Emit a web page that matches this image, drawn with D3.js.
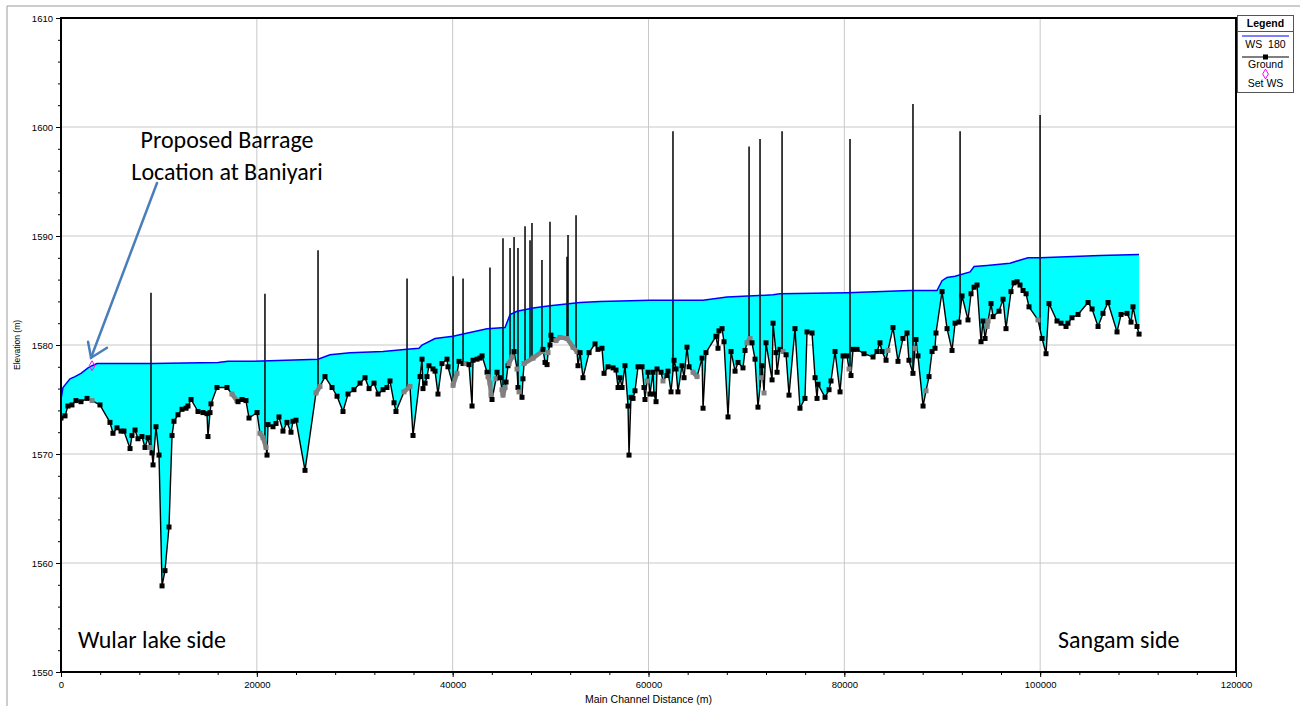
<!DOCTYPE html>
<html>
<head>
<meta charset="utf-8">
<script src="https://cdn.jsdelivr.net/npm/d3@7"></script>
<style>
  body { margin: 0; background: #fff; }
  svg { display: block; }
  .tick text { font-family: "Liberation Sans", Arial, sans-serif; font-size: 9.5px; fill: #000; }
</style>
</head>
<body>
<svg id="chart" width="1300" height="706"></svg>
<script>
// Longitudinal profile, Jhelum main channel (distance in m, elevation in m)
const groundDist = [0,410,710,1120,1530,2040,2660,3170,3980,5000,5310,5720,6130,6430,7050,7250,7560,7860,8270,8580,8890,9090,9290,9400,9700,10010,10320,10620,11030,11340,11540,11950,12360,12770,12970,13280,13990,14500,14910,15010,15220,15320,15930,16950,17460,17970,18080,18490,18890,19200,20020,20320,20630,20940,21040,21140,21650,21960,22260,22670,23080,23490,23690,24000,24920,26040,26450,26960,27680,28190,28800,29310,29920,30540,31050,31460,31970,32380,32890,33290,33600,34010,34210,35030,35640,35950,36670,36870,36970,37180,37380,37580,37990,38200,38500,38910,39420,39520,40040,40440,40650,41060,41360,41670,41980,42080,42490,42790,43000,43510,43610,43810,43920,44020,44430,44530,44840,45040,45140,45350,45450,45650,45750,46060,46270,46570,46670,46780,47080,47180,47290,48210,49120,49230,49430,49640,49740,49940,50040,50250,50550,50960,51680,52290,52700,52800,53010,53310,53930,54540,54840,55250,55460,55870,56380,56680,56890,57090,57300,57600,57910,58010,58210,58420,58620,58930,59340,59540,59640,59850,59950,60150,60460,60560,60770,60870,61280,61480,61890,61990,62300,62610,62810,63010,63420,63630,63930,64140,64550,64960,65470,65570,65870,66890,67100,67200,67510,67710,68120,68430,68840,69140,69650,69860,70060,70370,70570,70880,71180,71490,71590,71800,72000,72620,72720,73020,73130,73430,73740,74050,74350,74960,75470,75980,76190,76700,77010,77210,77310,78030,78440,78640,79050,79560,79870,80270,80480,80680,80890,81300,82010,82930,83340,83640,83850,84260,84460,84970,85480,85990,86400,86600,87010,87220,87320,87520,88040,88340,88650,88960,89260,89360,89980,90490,91000,91310,91710,92020,92630,92940,93250,93550,93960,94170,94370,94580,94680,94980,95190,95800,96210,96510,97020,97330,97640,97940,98250,98560,98860,99780,100190,100600,100900,101720,102130,102640,102840,103250,103870,104890,105300,105910,106420,106930,107850,108260,108870,109280,109480,109890,110100];

const groundElev = [1573.3,1573.5,1574.4,1574.5,1574.9,1574.8,1575.1,1574.9,1574.5,1572.9,1571.9,1572.4,1572.1,1572.1,1570.5,1571.7,1572.2,1571.4,1571.6,1570.6,1571.5,1570.6,1570.1,1569.0,1572.5,1569.9,1557.9,1559.3,1563.3,1571.7,1573.0,1573.6,1574.1,1574.2,1574.4,1575.0,1573.9,1573.8,1573.7,1571.6,1573.8,1574.6,1576.1,1576.1,1575.5,1574.9,1574.8,1575.0,1574.9,1573.3,1573.8,1571.9,1571.5,1570.6,1569.9,1572.7,1572.5,1572.8,1573.4,1572.1,1572.9,1572.0,1573.0,1573.1,1568.5,1575.6,1576.2,1577.1,1576.1,1575.3,1573.9,1575.5,1575.9,1576.5,1577.0,1576.0,1576.5,1575.5,1575.9,1576.1,1576.7,1574.7,1573.9,1575.7,1576.2,1571.7,1577.1,1578.7,1576.0,1576.5,1577.1,1578.1,1577.8,1577.6,1575.5,1578.3,1578.7,1578.0,1576.3,1577.4,1578.5,1578.3,1578.3,1578.2,1574.4,1578.6,1578.7,1578.8,1579.0,1577.5,1577.1,1576.5,1575.4,1575.0,1576.9,1577.5,1577.0,1575.9,1575.4,1576.1,1576.6,1578.1,1578.3,1578.9,1579.4,1577.8,1576.1,1575.7,1575.2,1576.9,1578.3,1578.8,1579.4,1579.6,1578.4,1578.2,1579.3,1580.0,1580.9,1580.5,1580.4,1580.7,1580.6,1579.8,1579.4,1578.1,1579.3,1577.0,1579.3,1580.1,1579.6,1579.7,1577.4,1578.0,1577.9,1577.7,1576.1,1577.0,1576.1,1578.1,1574.4,1569.9,1575.2,1575.1,1575.8,1578.0,1578.0,1576.1,1575.0,1576.7,1577.5,1575.5,1577.5,1575.5,1574.8,1577.8,1577.5,1576.7,1577.2,1577.6,1575.7,1578.6,1577.8,1575.7,1578.1,1577.0,1579.8,1578.0,1577.5,1577.1,1578.8,1574.2,1579.3,1580.8,1579.7,1581.3,1581.5,1580.3,1573.4,1579.4,1577.6,1578.4,1577.9,1579.5,1580.2,1580.6,1580.2,1578.7,1574.3,1577.0,1578.1,1575.6,1580.2,1576.8,1582.0,1579.3,1577.5,1579.6,1579.4,1579.1,1575.4,1581.5,1574.2,1575.1,1581.2,1581.1,1577.0,1575.1,1576.4,1575.2,1575.9,1576.7,1579.4,1575.7,1579.0,1579.0,1577.8,1577.2,1579.6,1579.6,1579.2,1578.9,1579.4,1580.2,1579.4,1578.6,1579.5,1581.6,1578.5,1580.6,1581.1,1578.6,1577.4,1579.7,1580.5,1579.0,1574.4,1575.8,1577.1,1579.4,1579.7,1581.1,1584.9,1581.5,1579.5,1582.0,1582.1,1584.5,1582.3,1584.7,1585.3,1585.5,1580.3,1582.2,1580.6,1581.7,1582.2,1583.8,1582.6,1583.1,1584.2,1581.5,1584.9,1585.7,1585.8,1585.5,1585.0,1584.7,1583.5,1582.3,1580.6,1579.2,1583.8,1582.2,1582.0,1581.7,1582.0,1582.5,1582.8,1583.9,1583.3,1581.7,1582.9,1583.9,1581.2,1582.8,1582.9,1582.1,1583.5,1581.7,1581.0];

// Stations of interpolated cross sections (drawn grey)
const interpolatedStations = [3170,9090,17460,17970,20320,20630,20940,26040,26450,35030,35640,40040,40440,41360,43610,43810,43920,44430,45040,45140,45350,45750,46060,46570,46780,47290,48210,49120,49740,50550,50960,51680,52290,52700,59850,61480,64550,64960,70060,70370,71490,71800,73740,80480,84460,87220,88340,94580,94680,99780];

// Water surface, profile "180"
const wsDist = [0,200,920,1430,2040,2760,3170,3680,9290,16030,17060,19300,26250,27470,29520,32890,35340,36560,36870,38200,40040,41060,43510,45350,45860,46570,48210,49940,53010,55050,60150,65570,68020,72720,73430,80270,86710,89460,89980,90490,91310,92840,93250,94580,96920,97640,98760,99990,106110,110100];
const wsElev = [1575.0,1576.1,1576.9,1577.1,1577.4,1577.9,1578.1,1578.3,1578.3,1578.4,1578.5,1578.5,1578.7,1579.1,1579.3,1579.4,1579.6,1579.7,1580.0,1580.6,1580.8,1581.0,1581.5,1581.6,1582.8,1583.1,1583.4,1583.6,1583.9,1584.0,1584.1,1584.1,1584.4,1584.6,1584.7,1584.8,1585.0,1585.0,1585.9,1586.2,1586.3,1586.7,1587.2,1587.3,1587.5,1587.7,1588.0,1588.0,1588.2,1588.3];

// Structures crossing the channel: station and top elevation
const structDist = [9190,20830,26250,35340,40040,41060,43810,45140,45860,46270,46670,47390,47900,48100,49120,49940,51680,51780,52600,62500,70270,71390,73640,80580,87010,91820,99990];
const structTop = [1584.8,1584.7,1588.7,1586.1,1586.3,1586.1,1587.1,1589.8,1588.9,1589.9,1588.9,1590.9,1589.6,1591.2,1587.8,1591.3,1588.1,1590.1,1591.9,1599.6,1598.2,1598.9,1599.6,1598.9,1602.1,1599.6,1601.1];

// Known water surface at the barrage site
const setWsDist = [3170];
const setWsElev = [1578.1];

const xTicks = [0,20000,40000,60000,80000,100000,120000];
const yTicks = [1550,1560,1570,1580,1590,1600,1610];

const svg = d3.select("#chart");
const x = d3.scaleLinear().domain([0, 120000]).range([61, 1236]);
const y = d3.scaleLinear().domain([1550, 1610]).range([672, 18]);

// outer page border
svg.append("path").attr("d", "M7,706 V6 H1300").attr("fill", "none").attr("stroke", "#9a9a9a").attr("stroke-width", 1);

svg.append("defs").append("clipPath").attr("id", "plotclip")
  .append("rect").attr("x", x(0)).attr("y", y(1610)).attr("width", x(120000) - x(0)).attr("height", y(1550) - y(1610));

// grid lines
const grid = svg.append("g").attr("stroke", "#c8c8c8").attr("stroke-width", 1);
grid.selectAll(".gx").data(xTicks.slice(1, -1)).join("line")
  .attr("x1", d => x(d)).attr("x2", d => x(d)).attr("y1", y(1550)).attr("y2", y(1610));
grid.selectAll(".gy").data(yTicks.slice(1, -1)).join("line")
  .attr("y1", d => y(d)).attr("y2", d => y(d)).attr("x1", x(0)).attr("x2", x(120000));

const ground = groundDist.map((d, i) => ({ d, e: groundElev[i], interp: interpolatedStations.includes(d) }));
const ws = wsDist.map((d, i) => ({ d, e: wsElev[i] }));

const plot = svg.append("g").attr("clip-path", "url(#plotclip)");
const line = d3.line().x(p => x(p.d)).y(p => y(p.e));

// water between ground and water surface
plot.append("path")
  .attr("d", line(ws.concat(ground.slice().reverse())) + "Z")
  .attr("fill", "#00ffff").attr("stroke", "none");

// ground elevation below a station
const bis = d3.bisector(p => p.d).left;
function groundAt(dd) {
  const i = Math.max(1, Math.min(ground.length - 1, bis(ground, dd)));
  const a = ground[i - 1], b = ground[i];
  const t = (dd - a.d) / (b.d - a.d);
  return a.e + t * (b.e - a.e);
}

// structure lines
plot.append("g").selectAll("line").data(structDist).join("line")
  .attr("x1", d => x(d)).attr("x2", d => x(d))
  .attr("y1", (d, i) => y(structTop[i])).attr("y2", d => y(groundAt(d)))
  .attr("stroke", "#000").attr("stroke-width", 1.5);

// water surface line
plot.append("path").attr("d", line(ws)).attr("fill", "none").attr("stroke", "#0000ff").attr("stroke-width", 1.5);

// ground line
plot.append("path").attr("d", line(ground)).attr("fill", "none").attr("stroke", "#000").attr("stroke-width", 1.4);

// runs of interpolated sections
const greySegs = [];
for (let i = 1; i < ground.length; i++) {
  if (ground[i].interp && ground[i - 1].interp) greySegs.push([ground[i - 1], ground[i]]);
}
plot.append("g").selectAll("line").data(greySegs).join("line")
  .attr("x1", s => x(s[0].d)).attr("y1", s => y(s[0].e))
  .attr("x2", s => x(s[1].d)).attr("y2", s => y(s[1].e))
  .attr("stroke", "#808080").attr("stroke-width", 4.5).attr("stroke-linecap", "round");

// section markers
plot.append("g").selectAll("rect").data(ground).join("rect")
  .attr("x", p => x(p.d) - 2.5).attr("y", p => y(p.e) - 2.5)
  .attr("width", 5).attr("height", 5)
  .attr("fill", p => p.interp ? "#808080" : "#000");

// set water surface marker
const diamond = d3.symbol().type(d3.symbolDiamond).size(28);
plot.append("g").selectAll("path").data(setWsDist).join("path")
  .attr("transform", (d, i) => `translate(${x(d)},${y(setWsElev[i])})`)
  .attr("d", diamond).attr("fill", "none").attr("stroke", "#ff00ff").attr("stroke-width", 1);

// frame
svg.append("rect").attr("x", x(0)).attr("y", y(1610))
  .attr("width", x(120000) - x(0)).attr("height", y(1550) - y(1610))
  .attr("fill", "none").attr("stroke", "#000").attr("stroke-width", 2);

// axes
const yAxis = svg.append("g").attr("transform", `translate(${x(0)},0)`)
  .call(d3.axisLeft(y).tickValues(yTicks).tickSize(5).tickPadding(3).tickFormat(d3.format("d")));
const yMinor = svg.append("g").attr("transform", `translate(${x(0)},0)`)
  .call(d3.axisLeft(y).tickValues(d3.range(1550, 1611, 2)).tickSize(3).tickFormat(""));
const xAxis = svg.append("g").attr("transform", `translate(0,${y(1550)})`)
  .call(d3.axisBottom(x).tickValues(xTicks).tickSize(5).tickPadding(4).tickFormat(d3.format("d")));
const xMinor = svg.append("g").attr("transform", `translate(0,${y(1550)})`)
  .call(d3.axisBottom(x).tickValues(d3.range(0, 120001, 4000)).tickSize(3).tickFormat(""));
[yAxis, yMinor, xAxis, xMinor].forEach(g => { g.select(".domain").remove(); g.selectAll("line").attr("stroke", "#000"); });

svg.append("text").attr("transform", `translate(20,${(y(1550) + y(1610)) / 2}) rotate(-90)`)
  .attr("text-anchor", "middle").attr("font-family", "Liberation Sans, Arial, sans-serif").attr("font-size", 8.5)
  .text("Elevation (m)");
svg.append("text").attr("x", (x(0) + x(120000)) / 2).attr("y", 703)
  .attr("text-anchor", "middle").attr("font-family", "Liberation Sans, Arial, sans-serif").attr("font-size", 10.5)
  .text("Main Channel Distance (m)");

// legend
const lg = svg.append("g").attr("font-family", "Liberation Sans, Arial, sans-serif").attr("font-size", 10.5);
lg.append("rect").attr("x", 1237.5).attr("y", 15.5).attr("width", 56).attr("height", 77)
  .attr("fill", "#fff").attr("stroke", "#555").attr("stroke-width", 1);
lg.append("text").attr("x", 1265.5).attr("y", 27).attr("text-anchor", "middle").attr("font-weight", "bold").text("Legend");
lg.append("line").attr("x1", 1237.5).attr("x2", 1293.5).attr("y1", 31.5).attr("y2", 31.5).attr("stroke", "#555");
lg.append("line").attr("x1", 1242).attr("x2", 1289).attr("y1", 36).attr("y2", 36).attr("stroke", "#0000ff").attr("stroke-width", 1.2);
lg.append("text").attr("x", 1265.5).attr("y", 48).attr("text-anchor", "middle").attr("xml:space", "preserve").text("WS  180");
lg.append("line").attr("x1", 1242).attr("x2", 1289).attr("y1", 57).attr("y2", 57).attr("stroke", "#000").attr("stroke-width", 1.2);
lg.append("rect").attr("x", 1263).attr("y", 54.5).attr("width", 5).attr("height", 5).attr("fill", "#000");
lg.append("text").attr("x", 1265.5).attr("y", 68).attr("text-anchor", "middle").text("Ground");
lg.append("path").attr("transform", "translate(1265.5,74)").attr("d", diamond)
  .attr("fill", "none").attr("stroke", "#ff00ff").attr("stroke-width", 1);
lg.append("text").attr("x", 1265.5).attr("y", 87).attr("text-anchor", "middle").text("Set WS");

// annotations
const ann = svg.append("g").attr("font-family", "Carlito, Calibri, Lato, sans-serif").attr("font-size", 24).attr("fill", "#000");
ann.append("text").attr("x", 227).attr("y", 148).attr("text-anchor", "middle").text("Proposed Barrage");
ann.append("text").attr("x", 227).attr("y", 180).attr("text-anchor", "middle").text("Location at Baniyari");
ann.append("text").attr("x", 78).attr("y", 648).text("Wular lake side");
ann.append("text").attr("x", 1058).attr("y", 648).text("Sangam side");

// arrow pointing at the barrage site
const tipX = x(setWsDist[0]) - 1, tipY = y(setWsElev[0]) - 8;
const arrow = svg.append("g").attr("stroke", "#4a7ebb").attr("stroke-width", 2.5).attr("fill", "none").attr("stroke-linecap", "round");
arrow.append("line").attr("x1", 157).attr("y1", 183).attr("x2", tipX).attr("y2", tipY);
arrow.append("path").attr("d", `M${tipX - 3},${tipY - 16} L${tipX},${tipY} L${tipX + 16},${tipY - 10}`);
</script>
</body>
</html>
